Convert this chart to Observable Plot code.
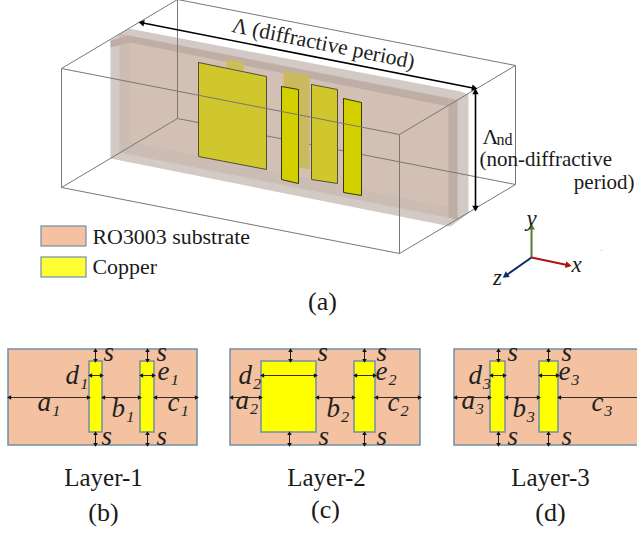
<!DOCTYPE html>
<html><head><meta charset="utf-8">
<script src="https://cdn.jsdelivr.net/npm/d3@7"></script>
<script src="https://cdn.jsdelivr.net/npm/@observablehq/plot@0.6"></script>
<style>html,body{margin:0;padding:0;background:#fff}svg{display:block}</style>
</head><body><div id="chart"></div>
<script>
// Unit-cell wireframe edges [x1,y1,x2,y2]
const backEdges = [[61,187,177,118],[177,118,515,184],[177,-1,177,118]];
const frontEdges = [[61,68,61,187],[61,187,399,253],[399,253,515,184],[515,184,515,65],[515,65,177,-1],[177,-1,61,68],[61,68,399,134],[399,134,399,253],[399,134,515,65]];
// Substrate layers as polygons
const substrateOuter = [[110,40],[128,28],[460,91],[468,94],[468,213],[450,226],[110,158],[110,40]];
const substrateRing = [[119,33],[457,99],[457,219],[119,152],[119,33]];
const substrateTopBand = [[110,40],[128,35],[448,98],[448,106],[129,42],[110,47],[110,40]];
const substrateRightBand = [[448,98],[457,100],[457,219],[448,217],[448,98]];
const substrateInner = [[129,42],[447,106],[447,207],[129,141],[129,42]];
// Copper patches as polygons
const patchBackSmall = [[226,59],[243,62],[243,70],[226,67],[226,59]];
const patchBackTall = [[283,70],[309,75],[309,169],[283,164],[283,70]];
const patchLarge = [[198,62],[266,76],[266,169],[198,156],[198,62]];
const patchStripA = [[281,86],[298,89],[298,183],[281,179],[281,86]];
const patchMid = [[311,84],[337,89],[337,183],[311,179],[311,84]];
const patchStripB = [[343,98],[361,102],[361,195],[343,192],[343,98]];
// Dimension arrows of panel (a)
const periodArrows = [[140,22,475,88],[475,90,475,209]];
const axisX = [531,257,569,265], axisY = [531,257,531,225], axisZ = [531,257,504,276];
const specks = [[601,250]];
// Legend
const legendBoxes = [[41,226,86,246,"#f4c2a1"],[41,257,86,277,"#ffff33"]];
const legendLabels = [[92,243,"RO3003 substrate"],[92,273,"Copper"]];
// Layer panels [x1,y1,x2,y2]
const panels = [[8,349,197,445],[230,349,420,445],[454,349,640,445]];
const metals = [[89,361,102,432],[140,361,154,432],[261,361,316,432],[354,361,375,432],[490,361,505,432],[539,361,558,432]];
// Layer dimension arrows
const hArrows = [[8,397,89],[102,397,140],[154,397,197],[89,375,102],[140,375,154],
  [230,397,261],[316,397,354],[375,397,420],[261,375,316],[354,375,375],
  [454,397,490],[505,397,539],[558,397,645],[490,375,505],[539,375,558]];
const vArrows = [[95,349,361],[95,432,445],[147,349,361],[147,432,445],
  [290,349,361],[289,432,445],[364,349,361],[364,432,445],
  [498,349,361],[498,432,445],[548,349,361],[548,432,445]];
// Math labels: [x, baseline, text]
const mathLabels = [[65,383,"d₁"],[37,410,"a₁"],[111,416,"b₁"],[167,410,"c₁"],[157,379,"e₁"],
  [238,383,"d₂"],[235,408,"a₂"],[326,416,"b₂"],[387,410,"c₂"],[375,379,"e₂"],
  [468,383,"d₃"],[461,408,"a₃"],[512,416,"b₃"],[591,410,"c₃"],[558,379,"e₃"]];
const sLabels = [[103,360],[156,360],[101,444],[156,444],[317,360],[376,360],[318,444],[376,444],[507,360],[561,360],[507,444],[561,444]];
const layerTitles = [[103,485,"Layer-1"],[326,485,"Layer-2"],[550,485,"Layer-3"]];
const panelTags = [[322,309,"(a)"],[103,520,"(b)"],[325,517,"(c)"],[550,520,"(d)"]];
const sideNotes = [[479,165,"(non-diffractive","start"],[634,188,"period)","end"]];
const axisLabels = [[531,225,"y"],[576,271,"x"],[497,284,"z"]];

const serif = "Liberation Serif";
const X1 = d=>d[0], Y1 = d=>d[1], X2 = d=>d[2], Y2 = d=>d[3];
const poly = (pts, fill, stroke="none", w=1) =>
  Plot.line(pts, {x:X1, y:Y1, fill, stroke, strokeWidth:w, strokeLinejoin:"miter"});
const links = (rows, stroke, w) => Plot.link(rows, {x1:X1, y1:Y1, x2:X2, y2:Y2, stroke, strokeWidth:w});
// Arrowheads sit just inside the ends of their shaft.
const heads = (rows, inset, both=true) => rows.flatMap(([a,b,c,d]) => {
  const ang = Math.atan2(c-a, b-d)*180/Math.PI, len = Math.hypot(c-a, d-b);
  const ux = (c-a)/len*inset, uy = (d-b)/len*inset;
  const end = {x:c-ux, y:d-uy, a:ang};
  return both ? [end, {x:a+ux, y:b+uy, a:ang+180}] : [end];
});
const headMark = (rows, fill, r, both=true) =>
  Plot.dot(heads(rows, r*0.75, both), {x:"x", y:"y", rotate:"a", symbol:"triangle", r, fill, stroke:"none"});
const rects = (rows, fill, stroke, w=1.2) =>
  Plot.rect(rows, {x1:X1, y1:Y1, x2:X2, y2:Y2, fill, stroke, strokeWidth:w});
const txt = (rows, size, extra={}) => Plot.text(rows, {x:X1, y:Y1, text:d=>d[2], fontFamily:serif, fontSize:size,
  lineAnchor:"bottom", fill:"#1a1a1a", ...extra});

const hRows = hArrows.map(([a,y,b])=>[a,y,b,y]);
const vRows = vArrows.map(([x,a,b])=>[x,a,x,b]);

const chart = Plot.plot({
  width:637, height:533, margin:0,
  x:{domain:[0,637], range:[0,637], axis:null},
  y:{domain:[0,533], range:[0,533], axis:null},
  style:{background:"#fff"},
  marks:[
    poly(substrateOuter,"#d3c9c5"),
    poly(substrateRing,"#cbbcb4"),
    poly(substrateTopBand,"#bfaea5"),
    poly(substrateRightBand,"#bfaea5"),
    poly(substrateInner,"#d2c0b5"),
    links(backEdges,"#7a7775",1),
    poly(patchBackSmall,"#cdbd55"),
    poly(patchBackTall,"#cbb95f"),
    poly(patchLarge,"#cfc72c","#555030",1),
    poly(patchStripA,"#d4d000","#3a3800",1),
    poly(patchMid,"#cfc72c","#555030",1),
    poly(patchStripB,"#d4d000","#3a3800",1),
    links(frontEdges,"#7a7775",1),
    links(periodArrows,"#000",1.6),
    headMark(periodArrows,"#000",2.4),
    Plot.text([[323,43,"Λ (diffractive period)"]],{x:X1,y:Y1,text:d=>d[2],rotate:11.5,fontFamily:serif,fontSize:21.7,fill:"#222"}),
    Plot.text(["Λ"],{x:[482],y:[143],text:d=>d,textAnchor:"start",lineAnchor:"bottom",fontFamily:serif,fontSize:22,fill:"#1a1a1a"}),
    Plot.text(["nd"],{x:[496],y:[144],text:d=>d,textAnchor:"start",lineAnchor:"bottom",fontFamily:serif,fontSize:16,fill:"#1a1a1a"}),
    txt(sideNotes.filter(d=>d[3]==="start"),21,{textAnchor:"start"}),
    txt(sideNotes.filter(d=>d[3]==="end"),21,{textAnchor:"end"}),
    links([axisY],"#4f7f30",2), headMark([axisY],"#4f7f30",2.6,false),
    links([axisX],"#b01010",2), headMark([axisX],"#b01010",2.6,false),
    links([axisZ],"#102a6b",2), headMark([axisZ],"#102a6b",2.6,false),
    txt(axisLabels,23,{fontStyle:"italic"}),
    Plot.dot(specks,{x:X1,y:Y1,r:0.6,fill:"#d9a0a8"}),
    rects(legendBoxes,d=>d[4],"#6f8fa8"),
    txt(legendLabels,21.9,{textAnchor:"start"}),
    rects(panels,"#f4c2a1","#6f8fa8",1.5),
    rects(metals,"#ffff00","#6f8fa8",1.5),
    links(hRows,"#3a2a20",1), links(vRows,"#1a1a1a",1),
    headMark(hRows,"#111",1.7), headMark(vRows,"#111",1.7),
    Plot.text(mathLabels,{x:X1,y:Y1,text:d=>d[2],textAnchor:"start",lineAnchor:"bottom",fontFamily:serif,fontStyle:"italic",fontSize:27,fill:"#222"}),
    Plot.text(sLabels,{x:X1,y:Y1,text:()=>"s",textAnchor:"start",lineAnchor:"bottom",fontFamily:serif,fontStyle:"italic",fontSize:27,fill:"#222"}),
    txt(layerTitles,25),
    txt(panelTags,26)
  ]
});
document.getElementById("chart").append(chart);
</script></body></html>
